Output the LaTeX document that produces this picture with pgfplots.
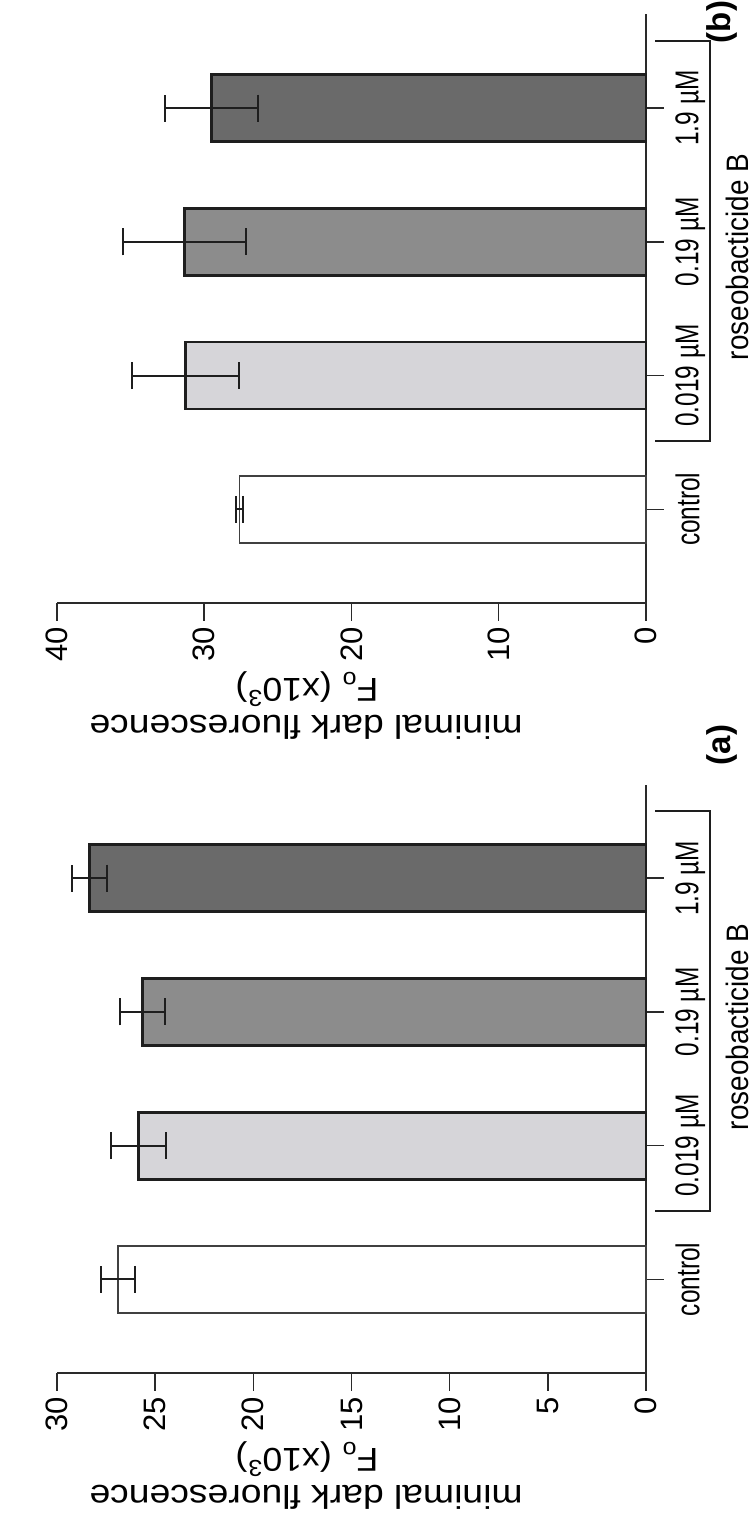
\documentclass[border=0pt]{standalone}
\usepackage{fontspec}
\setmainfont{Liberation Sans}
\usepackage{graphicx}
\usepackage{pgfplots}
\pgfplotsset{compat=1.18}
\definecolor{axc}{HTML}{2A2A2A}
\definecolor{brd}{HTML}{1E1E1E}
\definecolor{gL}{HTML}{D6D5D9}
\definecolor{gM}{HTML}{8C8C8C}
\definecolor{gD}{HTML}{6A6A6A}
\newcommand{\cl}[1]{\scalebox{0.74}[1]{#1}}
\pgfplotsset{
  panel/.style={
    scale only axis, width=294.5pt, height=294.2pt,
    xbar, bar width=33.5pt, bar shift=0pt,
    x dir=reverse, xmin=0, ymin=-0.7, ymax=3.7,
    axis x line*=bottom, axis y line*=right,
    axis line style={axc, line width=0.75pt},
    every tick/.style={axc, line width=0.75pt},
    xtick align=outside, ytick align=outside, major tick length=9pt,
    ytick={0,1,2,3},
    yticklabels={{\cl{control}},{\cl{0.019 µM}},{\cl{0.19 µM}},{\cl{1.9 µM}}},
    xticklabel style={rotate=90, anchor=east, font=\fontsize{15.5}{18}\selectfont, inner sep=1pt},
    yticklabel style={rotate=90, anchor=north, font=\fontsize{16.5}{19}\selectfont, inner sep=1pt},
    xticklabel shift=2pt, yticklabel shift=4.5pt,
    /pgf/number format/assume math mode=true,
    clip=false,
    error bars/error mark=|,
    error bars/error bar style={brd, line width=1pt},
    error bars/error mark options={brd, line width=1pt, mark size=6.75pt},
  },
  ctrl/.style={fill=white, draw=brd!85, line width=0.8pt},
  bl/.style={fill=gL, draw=brd, line width=1.4pt},
  bm/.style={fill=gM, draw=brd, line width=1.4pt},
  bd/.style={fill=gD, draw=brd, line width=1.4pt},
}
\begin{document}
\begin{tikzpicture}
\useasboundingbox (0pt,0pt) rectangle (376pt,761pt);
% panel (a)
\begin{axis}[panel, at={(175.75pt,221.6pt)}, anchor=center, xmax=30, xtick={0,5,...,30}]
\addplot[ctrl, error bars/.cd, x dir=both, x explicit] coordinates {(26.9,0) +- (0.87,0)};
\addplot[bl, error bars/.cd, x dir=both, x explicit] coordinates {(25.85,1) +- (1.4,0)};
\addplot[bm, error bars/.cd, x dir=both, x explicit] coordinates {(25.65,2) +- (1.15,0)};
\addplot[bd, error bars/.cd, x dir=both, x explicit] coordinates {(28.33,3) +- (0.9,0)};
\end{axis}
% panel (b)
\begin{axis}[panel, at={(175.75pt,606.65pt)}, anchor=center, xmax=40, xtick={0,10,...,40}]
\addplot[ctrl, error bars/.cd, x dir=both, x explicit] coordinates {(27.6,0) +- (0.23,0)};
\addplot[bl, error bars/.cd, x dir=both, x explicit] coordinates {(31.27,1) +- (3.65,0)};
\addplot[bm, error bars/.cd, x dir=both, x explicit] coordinates {(31.35,2) +- (4.2,0)};
\addplot[bd, error bars/.cd, x dir=both, x explicit] coordinates {(29.5,3) +- (3.17,0)};
\end{axis}
\begin{scope}[x=0.5pt, y=-0.5pt, shift={(0pt,761pt)}]
  \foreach \yo in {0,770}{
    \node[rotate=180, font=\fontsize{16.5}{20}\selectfont, inner sep=0pt] at (307,689+\yo) {\scalebox{1.08}[1]{F\textsubscript{o} (x10\textsuperscript{3})}};
    \node[rotate=180, font=\fontsize{16.5}{20}\selectfont, inner sep=0pt] at (306,727+\yo) {\scalebox{1.13}[1]{minimal dark fluorescence}};
    \draw[brd, line width=1.2pt] (655,41+\yo) -- (710,41+\yo) -- (710,441+\yo) -- (655,441+\yo);
    \node[rotate=90, font=\fontsize{15.5}{18}\selectfont, inner sep=0pt] at (737,257+\yo) {\scalebox{0.9}[1]{roseobacticide B}};
  }
  \node[rotate=90, font=\fontsize{16.5}{20}\selectfont\bfseries, inner sep=0pt] at (722,745) {(a)};
  \node[rotate=90, font=\fontsize{16.5}{20}\selectfont\bfseries, inner sep=0pt] at (722,22) {(b)};
\end{scope}
\end{tikzpicture}
\end{document}
